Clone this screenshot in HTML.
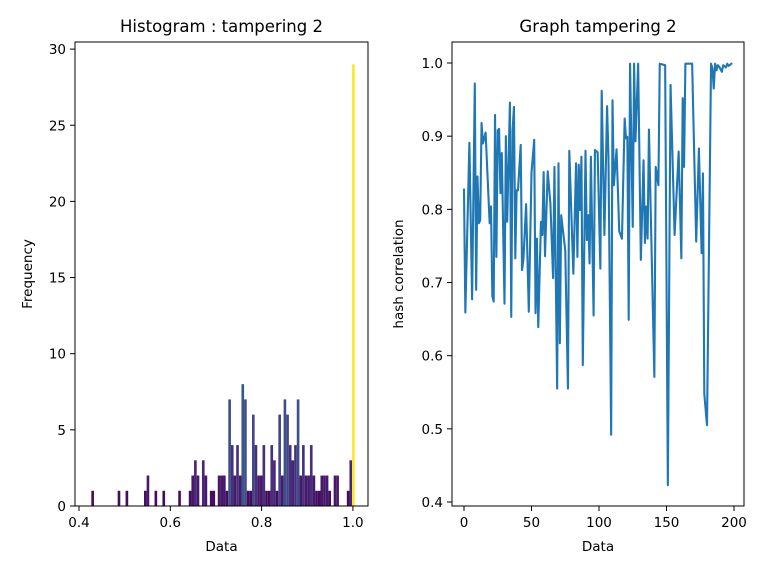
<!DOCTYPE html>
<html><head><meta charset="utf-8"><style>
html,body{margin:0;padding:0;background:#fff;}
svg{display:block;font-family:"DejaVu Sans","Liberation Sans",sans-serif;}
</style></head><body>
<svg id="fig" width="768" height="576" viewBox="0 0 768 576" xmlns="http://www.w3.org/2000/svg">
<rect width="768" height="576" fill="#fff"/>
<g id="left"></g>
<g id="right"></g>
</svg>
<script>
// Histogram data
const histRange = [0.427, 1.004];
const histCounts = [1,0,0,0,0,0,0,0,0,0, 1,0,0,1,0,0,0,0,0,0,
 1,2,0,0,1,0,0,1,0,0, 0,0,0,1,0,0,0,1,2,3,
 2,0,3,2,0,1,1,0,2,2, 2,1,7,4,2,4,2,8,7,1,
 1,6,4,2,2,4,1,1,4,3, 1,6,2,7,6,4,3,4,7,2,
 4,2,2,4,2,1,1,2,2,2, 1,0,2,2,0,0,0,1,3,29];
const histXTicks = [0.4,0.6,0.8,1.0];
const histXTickLabels = ["0.4","0.6","0.8","1.0"];
const histYTicks = [0,5,10,15,20,25,30];

// Line data
const lineX = [0,1,4,6,8,9,10,11,12,13,14,16,19,20,21,22,23,24,25,26,27,28,30,31,32,34,35,36,37,38,39,40,42,43,44,46,48,50,52,53,54,55,57,58,59,60,62,
64,66,67,69,70,71,72,75,77,78,81,83,84,85,86,87,88,90,91,92,93,94,96,97,99,101,102,104,106,107,109,110,111,113,115,117,119,120,121,122,123,125,126,127,129,131,133,134,135,136,137,
141,142,144,145,149,151,153,156,159,161,162,163,164,169,172,174,176,177,178,180,183,184,185,186,187,188,189,191,192,194,195,196,198];
const lineY = [0.827,0.659,0.891,0.677,0.972,0.690,0.845,0.781,0.785,0.918,0.890,0.905,0.781,0.804,0.681,0.674,0.929,0.735,0.908,0.910,0.822,0.877,0.671,0.900,0.783,0.946,0.653,0.908,0.940,0.733,0.826,0.826,0.888,0.717,0.731,0.807,0.660,0.850,0.895,0.658,0.760,0.639,0.783,0.765,0.851,0.736,0.852,
0.808,0.706,0.858,0.555,0.863,0.617,0.792,0.744,0.555,0.880,0.712,0.863,0.735,0.861,0.799,0.872,0.587,0.880,0.758,0.792,0.726,0.872,0.655,0.881,0.878,0.719,0.962,0.765,0.941,0.872,0.492,0.949,0.833,0.882,0.770,0.760,0.924,0.897,0.899,0.649,0.999,0.776,0.999,0.893,0.999,0.731,0.867,0.754,0.804,0.760,0.909,
0.571,0.858,0.833,0.999,0.997,0.423,0.970,0.765,0.879,0.733,0.952,0.858,0.999,0.999,0.756,0.883,0.740,0.849,0.548,0.505,0.999,0.993,0.965,0.999,0.990,0.997,0.995,0.988,0.997,0.994,0.999,0.996,0.999];
const lineXTicks = [0,50,100,150,200];
const lineYTicks = [0.4,0.5,0.6,0.7,0.8,0.9,1.0];
const lineYTickLabels = ["0.4","0.5","0.6","0.7","0.8","0.9","1.0"];

const NS = "http://www.w3.org/2000/svg";
function mk(parent, tag, attrs){
  const e = document.createElementNS(NS, tag);
  for (const k in attrs) e.setAttribute(k, attrs[k]);
  parent.appendChild(e);
  return e;
}
const vir = ["#440154","#482475","#414487","#355f8d","#2a788e","#21918c","#22a884","#44bf70","#7ad151","#bddf26","#fde725"];
function hx(c){return [1,3,5].map(i=>parseInt(c.substr(i,2),16));}
function viridis(t){
  t=Math.max(0,Math.min(1,t)); const p=t*10, i=Math.min(9,Math.floor(p)), f=p-i;
  const a=hx(vir[i]), b=hx(vir[i+1]);
  return "rgb("+a.map((v,k)=>Math.round(v+(b[k]-v)*f)).join(",")+")";
}

// ---- left panel ----
const L = {x0:75, x1:368, y0:42, y1:506};
const hxs = v => 79 + (v-0.4)/0.2*91.3;
const hys = v => 506 - v*15.23;
const gl = document.getElementById('left');
const maxC = Math.max(...histCounts);
const bw = (histRange[1]-histRange[0])/histCounts.length;
histCounts.forEach((c,i)=>{
  if(!c) return;
  const a = histRange[0]+i*bw;
  const r = mk(gl,'rect',{x:hxs(a), y:hys(c), width:hxs(a+bw)-hxs(a), height:hys(0)-hys(c), fill:viridis(c/maxC)});
  
  
});
function frame(g, b){
  const r = mk(g,'rect',{x:b.x0, y:b.y0, width:b.x1-b.x0, height:b.y1-b.y0, fill:'none', stroke:'#000', 'stroke-width':1});
  
  
}
frame(gl, L);
histXTicks.forEach((v,i)=>{
  const x=hxs(v);
  mk(gl,'line',{x1:x,x2:x,y1:506,y2:511,stroke:'#000'});
  const t=mk(gl,'text',{x:x,y:527,'text-anchor':'middle','font-size':13.5});
  t.textContent=histXTickLabels[i];
  
  
});
histYTicks.forEach(v=>{
  const y=hys(v);
  mk(gl,'line',{x1:70,x2:75,y1:y,y2:y,stroke:'#000'});
  const t=mk(gl,'text',{x:66,y:y+5,'text-anchor':'end','font-size':13.5});
  t.textContent=String(v);
  
  
});
let t;
t=mk(gl,'text',{x:221.5,y:32,'text-anchor':'middle','font-size':16.5}); t.textContent="Histogram : tampering 2";


t=mk(gl,'text',{x:221.5,y:551,'text-anchor':'middle','font-size':13.5}); t.textContent="Data";


t=mk(gl,'text',{x:0,y:0,'text-anchor':'middle','font-size':13.5,transform:'translate(32,274) rotate(-90)'}); t.textContent="Frequency";



// ---- right panel ----
const R = {x0:452, x1:744, y0:42, y1:506};
const lxs = v => 464 + v*1.35;
const lys = v => 63 + (1.0-v)*731.7;
const gr = document.getElementById('right');
frame(gr, R);
const path = mk(gr,'polyline',{points: lineX.map((x,i)=>lxs(x)+","+lys(lineY[i])).join(" "), fill:'none', stroke:'#1f77b4','stroke-width':2.1,'stroke-linejoin':'round','stroke-linecap':'square'});


lineXTicks.forEach(v=>{
  const x=lxs(v);
  mk(gr,'line',{x1:x,x2:x,y1:506,y2:511,stroke:'#000'});
  const tt=mk(gr,'text',{x:x,y:527,'text-anchor':'middle','font-size':13.5});
  tt.textContent=String(v);
  
  
});
lineYTicks.forEach((v,i)=>{
  const y=lys(v);
  mk(gr,'line',{x1:447,x2:452,y1:y,y2:y,stroke:'#000'});
  const tt=mk(gr,'text',{x:443,y:y+5,'text-anchor':'end','font-size':13.5});
  tt.textContent=lineYTickLabels[i];
  
  
});
t=mk(gr,'text',{x:598,y:32,'text-anchor':'middle','font-size':16.5}); t.textContent="Graph tampering 2";


t=mk(gr,'text',{x:598,y:551,'text-anchor':'middle','font-size':13.5}); t.textContent="Data";


t=mk(gr,'text',{x:0,y:0,'text-anchor':'middle','font-size':13.5,transform:'translate(403,274) rotate(-90)'}); t.textContent="hash correlation";


</script>
</body></html>
